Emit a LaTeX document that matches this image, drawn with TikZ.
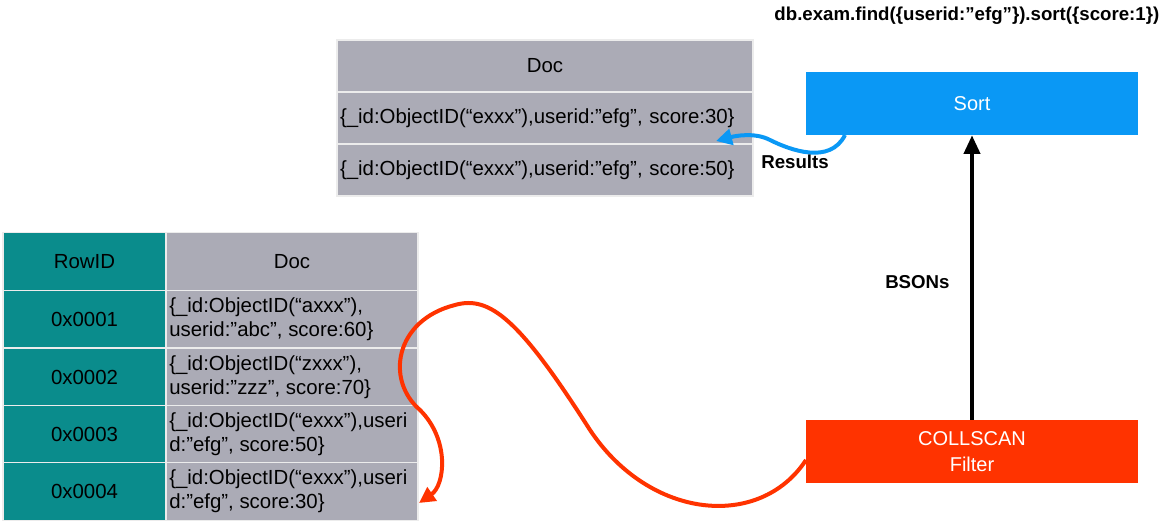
\documentclass[tikz,border=0pt]{standalone}
\usepackage{fontspec}
\setmainfont{Liberation Sans}
\usetikzlibrary{arrows.meta}
\definecolor{teal1}{HTML}{0A8C8C}
\definecolor{gray1}{HTML}{ABABB6}
\definecolor{sortb}{HTML}{0A98F5}
\definecolor{scanr}{HTML}{FF3300}
\begin{document}
\begin{tikzpicture}[x=0.75pt,y=-0.75pt,
  cell/.style={draw=white!85!gray,line width=0.8pt,inner sep=0pt,font=\fontsize{15.3}{18}\selectfont},
  tcell/.style={cell,fill=teal1},
  gcell/.style={cell,fill=gray1},
  op/.style={inner sep=0pt,text=white,font=\fontsize{15}{19}\selectfont,align=center}]
\useasboundingbox (0,0) rectangle (1167,528);
\node[anchor=north east,font=\bfseries\fontsize{14}{16}\selectfont] (title) at (1164,2) {db.exam.find(\{userid:”efg”\}).sort(\{score:1\})};
% top table
\node[gcell,minimum width=416*0.75pt,minimum height=52*0.75pt] (th) at (545,66) {Doc};
\node[gcell,minimum width=416*0.75pt,minimum height=52*0.75pt,text width=410*0.75pt,align=left] (t1) at (545,118) {\{\_id:ObjectID(“exxx”),userid:”efg”, score:30\}};
\node[gcell,minimum width=416*0.75pt,minimum height=52*0.75pt,text width=410*0.75pt,align=left] (t2) at (545,170) {\{\_id:ObjectID(“exxx”),userid:”efg”, score:50\}};
% left table
\foreach \n/\y/\r/\d in {h/261.5/RowID/Doc,
  a/319/0x0001/{\{\_id:ObjectID(“axxx”),\\userid:”abc”, score:60\}},
  b/377/0x0002/{\{\_id:ObjectID(“zxxx”),\\userid:”zzz”, score:70\}},
  c/434.5/0x0003/{\{\_id:ObjectID(“exxx”),useri\\d:”efg”, score:50\}},
  d/491.5/0x0004/{\{\_id:ObjectID(“exxx”),useri\\d:”efg”, score:30\}}}{
  \node[tcell,minimum width=163*0.75pt,minimum height=57.5*0.75pt] (r\n) at (84.5,\y) {\r};
  \node[gcell,minimum width=252*0.75pt,minimum height=57.5*0.75pt] (d\n) at (292,\y) {};
  \node[anchor=west,align=left,inner sep=0pt,font=\fontsize{15.3}{18}\selectfont] at (169,\y) {\d};
}
\node[gcell,minimum width=252*0.75pt,minimum height=57.5*0.75pt] at (292,261.5) {Doc};
% operators
\node[op,fill=sortb,minimum width=332*0.75pt,minimum height=63*0.75pt] (sort) at (972,103.5) {Sort};
\node[op,fill=scanr,minimum width=332*0.75pt,minimum height=63*0.75pt] (scan) at (972,451.5) {COLLSCAN\\Filter};
\draw[line width=3pt,-{Triangle[length=14pt,width=12pt]}] (scan.north) -- (sort.south) node[pos=0.485,left=12pt,font=\bfseries\fontsize{14}{16}\selectfont,text=black] (bs) {BSONs};
\coordinate (bstart) at (845,135);
\coordinate (bend) at (716,141);
\draw[sortb,line width=3pt,-{Triangle[length=12pt,width=12pt]}] (bstart) .. controls (830,165) and (790,150) .. (770,140) .. controls (755,132) and (735,136) .. (bend);
\node[font=\bfseries\fontsize{14}{16}\selectfont] (res) at (795,162) {Results};
\coordinate (rs) at (806,460);
\coordinate (re) at (419,503);
\draw[scanr,line width=3pt,-{Triangle[length=12pt,width=12pt]}] (rs) .. controls (760,530) and (650,520) .. (590,430) .. controls (520,320) and (490,295) .. (455,305) .. controls (395,320) and (385,380) .. (420,410) .. controls (450,440) and (445,485) .. (re);
\end{tikzpicture}
\end{document}
